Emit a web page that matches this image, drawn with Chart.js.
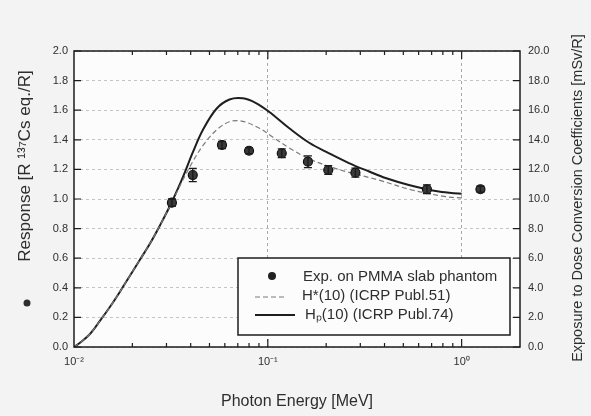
<!DOCTYPE html>
<html>
<head>
<meta charset="utf-8">
<script src="https://cdn.jsdelivr.net/npm/chart.js@4.4.1/dist/chart.umd.min.js"></script>
<style>
  html, body { margin: 0; padding: 0; background: #f3f3f3; }
  #wrap { width: 591px; height: 416px; }
</style>
</head>
<body>
<div id="wrap"><canvas id="respChart" width="591" height="416"></canvas></div>
<script>
// experiment on PMMA slab phantom (energy in MeV, response in R 137Cs eq./R)
var expEnergy = [0.032, 0.041, 0.058, 0.080, 0.118, 0.161, 0.205, 0.283, 0.662, 1.25];
var expResp   = [0.975, 1.162, 1.365, 1.326, 1.309, 1.252, 1.196, 1.178, 1.066, 1.066];
var expErr    = [0.025, 0.045, 0.025, 0.02, 0.03, 0.04, 0.03, 0.03, 0.03, 0.02];

// H*(10), ICRP Publ.51 (dashed)
var hsEnergy = [0.01, 0.01086, 0.01209, 0.0136, 0.01531, 0.01723, 0.0194, 0.02184, 0.02458, 0.02767, 0.0318, 0.0365, 0.0411, 0.0462, 0.0542, 0.0634, 0.0742, 0.0905, 0.1054, 0.129, 0.163, 0.207, 0.262, 0.374, 0.553, 0.827, 1.0];
var hsResp   = [0.0, 0.034, 0.088, 0.176, 0.27, 0.372, 0.48, 0.588, 0.696, 0.818, 0.97, 1.13, 1.255, 1.36, 1.465, 1.522, 1.525, 1.478, 1.421, 1.345, 1.272, 1.22, 1.18, 1.128, 1.061, 1.016, 1.007];

// Hp(10), ICRP Publ.74 (solid)
var hpEnergy = [0.01, 0.01086, 0.01209, 0.0136, 0.01531, 0.01723, 0.0194, 0.02184, 0.02458, 0.02767, 0.0318, 0.0365, 0.0411, 0.0462, 0.0542, 0.0634, 0.0742, 0.0869, 0.1018, 0.129, 0.1634, 0.207, 0.262, 0.333, 0.405, 0.534, 0.762, 1.0];
var hpResp   = [0.0, 0.034, 0.088, 0.176, 0.27, 0.372, 0.48, 0.588, 0.696, 0.818, 0.973, 1.149, 1.318, 1.466, 1.608, 1.672, 1.68, 1.648, 1.588, 1.478, 1.38, 1.309, 1.243, 1.186, 1.142, 1.095, 1.05, 1.035];

var xDecades = [0.01, 0.1, 1];
var seriesLabels = ['Exp. on PMMA slab phantom', 'H*(10) (ICRP Publ.51)', 'H\u209A(10) (ICRP Publ.74)'];

var textColor = '#2e2e2e';
var fontFam = '"Liberation Sans", Arial, Helvetica, sans-serif';

function toPoints(xs, ys) {
  return xs.map(function (x, i) { return { x: x, y: ys[i] }; });
}

// 1..9 x 10^k, used for the log ticks
var xTickVals = [];
xDecades.forEach(function (d) {
  for (var m = 1; m <= 9; m++) {
    var v = +(m * d).toPrecision(3);
    if (v <= 2) xTickVals.push(v);
  }
});

function supNum(n) {
  var map = { '-': '\u207B', '0': '\u2070', '1': '\u00B9', '2': '\u00B2', '3': '\u00B3' };
  return String(n).split('').map(function (c) { return map[c] || c; }).join('');
}

var framePlugin = {
  id: 'frame',
  beforeDraw: function (chart) {
    var ctx = chart.ctx, a = chart.chartArea;
    ctx.save();
    ctx.fillStyle = '#f3f3f3';
    ctx.fillRect(0, 0, chart.width, chart.height);
    ctx.fillStyle = '#fcfcfc';
    ctx.fillRect(a.left, a.top, a.right - a.left, a.bottom - a.top);
    ctx.restore();
  },
  afterDatasetsDraw: function (chart) {
    // error bars on the experiment points
    var ctx = chart.ctx;
    var meta = chart.getDatasetMeta(0);
    var ys = chart.scales.y;
    ctx.save();
    ctx.strokeStyle = '#1a1a1a';
    ctx.lineWidth = 1.3;
    meta.data.forEach(function (pt, i) {
      var top = ys.getPixelForValue(expResp[i] + expErr[i]);
      var bot = ys.getPixelForValue(expResp[i] - expErr[i]);
      ctx.beginPath();
      ctx.moveTo(pt.x, top); ctx.lineTo(pt.x, bot);
      ctx.moveTo(pt.x - 4, top); ctx.lineTo(pt.x + 4, top);
      ctx.moveTo(pt.x - 4, bot); ctx.lineTo(pt.x + 4, bot);
      ctx.stroke();
    });
    ctx.restore();
  },
  afterDraw: function (chart) {
    var ctx = chart.ctx, a = chart.chartArea;
    var xs = chart.scales.x, ys = chart.scales.y;
    ctx.save();
    // frame
    ctx.strokeStyle = '#1c1c1c';
    ctx.lineWidth = 1.5;
    ctx.strokeRect(a.left, a.top, a.right - a.left, a.bottom - a.top);

    // inward ticks
    ctx.lineWidth = 1.2;
    ctx.beginPath();
    xTickVals.forEach(function (v) {
      var px = xs.getPixelForValue(v);
      if (px <= a.left + 1 || px >= a.right - 1) return;
      var len = xDecades.indexOf(v) >= 0 ? 8 : 4;
      ctx.moveTo(px, a.bottom); ctx.lineTo(px, a.bottom - len);
      ctx.moveTo(px, a.top); ctx.lineTo(px, a.top + len);
    });
    ys.ticks.forEach(function (t) {
      var py = ys.getPixelForValue(t.value);
      ctx.moveTo(a.left, py); ctx.lineTo(a.left + 7, py);
      ctx.moveTo(a.right, py); ctx.lineTo(a.right - 7, py);
    });
    ctx.stroke();

    // axis titles, both reading bottom to top
    ctx.fillStyle = textColor;
    ctx.textAlign = 'center';
    ctx.textBaseline = 'middle';
    ctx.save();
    ctx.translate(25, 166);
    ctx.rotate(-Math.PI / 2);
    ctx.font = '17px ' + fontFam;
    ctx.fillText('Response [R \u00B9\u00B3\u2077Cs eq./R]', 0, 0);
    ctx.restore();
    ctx.beginPath();
    ctx.arc(27, 303, 3.5, 0, Math.PI * 2);
    ctx.fill();

    ctx.save();
    ctx.translate(578, 198);
    ctx.rotate(-Math.PI / 2);
    ctx.font = '14.5px ' + fontFam;
    ctx.fillText('Exposure to Dose Conversion Coefficients [mSv/R]', 0, 0);
    ctx.restore();

    // legend box
    var bx = 238, by = 258, bw = 272, bh = 77;
    ctx.fillStyle = '#fcfcfc';
    ctx.fillRect(bx, by, bw, bh);
    ctx.strokeStyle = '#1c1c1c';
    ctx.lineWidth = 1.5;
    ctx.strokeRect(bx, by, bw, bh);

    var ds = chart.data.datasets;
    ctx.font = '15px ' + fontFam;
    ctx.textAlign = 'left';
    // points entry
    ctx.beginPath();
    ctx.arc(272, 276, 4, 0, Math.PI * 2);
    ctx.fillStyle = '#222';
    ctx.fill();
    ctx.fillStyle = textColor;
    ctx.fillText(ds[0].label, 303, 277);
    // dashed entry
    ctx.strokeStyle = ds[1].borderColor;
    ctx.lineWidth = ds[1].borderWidth;
    ctx.setLineDash(ds[1].borderDash);
    ctx.beginPath();
    ctx.moveTo(255, 297); ctx.lineTo(287, 297);
    ctx.stroke();
    ctx.setLineDash([]);
    ctx.fillText(ds[1].label, 302, 296);
    // solid entry
    ctx.strokeStyle = ds[2].borderColor;
    ctx.lineWidth = ds[2].borderWidth;
    ctx.beginPath();
    ctx.moveTo(255, 315); ctx.lineTo(295, 315);
    ctx.stroke();
    ctx.fillText(ds[2].label, 305, 315);
    ctx.restore();
  }
};

var configChart = {
  type: 'scatter',
  data: {
    datasets: [
      {
        label: seriesLabels[0],
        data: toPoints(expEnergy, expResp),
        pointRadius: 4.5,
        pointBackgroundColor: '#3a3a3a',
        pointBorderColor: '#111',
        pointBorderWidth: 1.2,
        showLine: false
      },
      {
        label: seriesLabels[1],
        data: toPoints(hsEnergy, hsResp),
        showLine: true,
        borderColor: '#7a7a7a',
        borderWidth: 1.2,
        borderDash: [5, 3],
        pointRadius: 0,
        tension: 0.35
      },
      {
        label: seriesLabels[2],
        data: toPoints(hpEnergy, hpResp),
        showLine: true,
        borderColor: '#1e1e1e',
        borderWidth: 2,
        pointRadius: 0,
        tension: 0.35
      }
    ]
  },
  options: {
    responsive: false,
    animation: false,
    events: [],
    layout: { padding: { top: 51, left: 0, right: 0, bottom: 0 }, autoPadding: false },
    plugins: {
      legend: { display: false },
      tooltip: { enabled: false }
    },
    scales: {
      x: {
        type: 'logarithmic',
        min: 0.01,
        max: 2,
        afterBuildTicks: function (scale) {
          scale.ticks = xTickVals.map(function (v) { return { value: v }; });
        },
        afterFit: function (scale) { scale.height = 69; },
        grid: {
          drawTicks: false,
          color: function (c) {
            var v = c.tick && c.tick.value;
            return (v === 0.1 || v === 1) ? '#a8a8a8' : 'rgba(0,0,0,0)';
          },
          lineWidth: 1
        },
        border: { display: false, dash: [3, 3] },
        ticks: {
          autoSkip: false,
          maxRotation: 0,
          padding: 8,
          color: textColor,
          font: { size: 11, family: fontFam },
          callback: function (v) {
            if (xDecades.indexOf(v) < 0) return '';
            return '10' + supNum(Math.round(Math.log10(v)));
          }
        },
        title: {
          display: true,
          text: 'Photon Energy [MeV]',
          color: textColor,
          font: { size: 16, family: fontFam },
          padding: { top: 0, bottom: 5 }
        }
      },
      y: {
        position: 'left',
        min: 0,
        max: 2,
        afterFit: function (scale) { scale.width = 74; },
        grid: {
          drawTicks: false,
          color: '#c4c4c4',
          lineWidth: 1
        },
        border: { display: false, dash: [3, 3] },
        ticks: {
          stepSize: 0.2,
          padding: 6,
          color: textColor,
          font: { size: 11, family: fontFam },
          callback: function (v) { return v.toFixed(1); }
        }
      },
      y2: {
        position: 'right',
        min: 0,
        max: 20,
        afterFit: function (scale) { scale.width = 71; },
        grid: { drawOnChartArea: false, drawTicks: false },
        border: { display: false },
        ticks: {
          stepSize: 2,
          padding: 8,
          color: textColor,
          font: { size: 11, family: fontFam },
          callback: function (v) { return v.toFixed(1); }
        }
      }
    }
  },
  plugins: [framePlugin]
};

function showChart() {
  var ctx = document.getElementById('respChart');
  var chart = Chart.getChart(ctx);
  if (chart) {
    chart.destroy();
  }
  chart = new Chart(ctx, configChart);
}
showChart();
</script>
</body>
</html>
